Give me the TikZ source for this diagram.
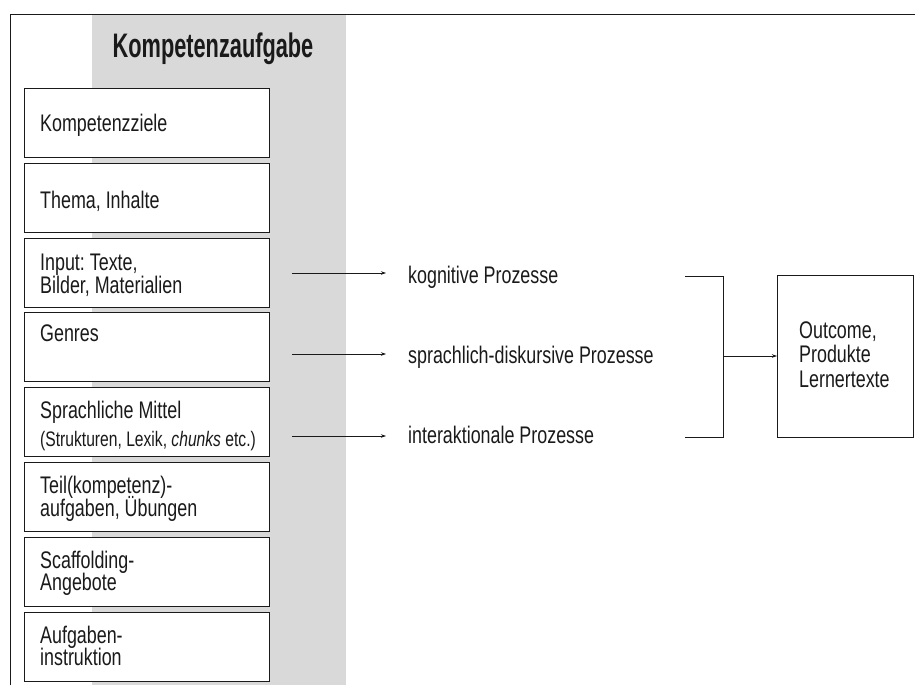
\documentclass[tikz,border=0pt]{standalone}
\usepackage{fontspec}
\setmainfont{Liberation Sans}[FakeStretch=0.745]
\newfontfamily\titlefont{Liberation Sans}[FakeStretch=0.64]
\usetikzlibrary{arrows.meta}
\definecolor{ink}{HTML}{1A1A1A}
\definecolor{band}{HTML}{D9D9D9}
\frenchspacing
\tikzset{
  box/.style={draw=ink, line width=0.9pt, fill=white, minimum width=245pt, minimum height=69pt, inner sep=0pt, anchor=north west},
  txt/.style={anchor=base west, inner sep=0pt, text=ink, font=\fontsize{24}{23}\selectfont},
  small/.style={anchor=base west, inner sep=0pt, text=ink, font=\fontsize{21}{20}\selectfont},
  arr/.style={draw=ink, line width=0.7pt, -{Stealth[length=5pt,width=3.5pt]}},
  ln/.style={draw=ink, line width=0.7pt}
}
\begin{document}
\begin{tikzpicture}[x=1pt,y=-1pt]
\useasboundingbox (0,0) rectangle (915,685);
% gray band and frame
\fill[band] (92,14) rectangle (346,685);
\draw[ln, line width=0.8pt] (10,685) -- (10,14) -- (915,14);
% title
\node[anchor=base, inner sep=0pt, text=ink, font=\titlefont\bfseries\fontsize{34}{36}\selectfont] (title) at (213,58) {Kompetenzaufgabe};
% boxes
\node[box] (b1) at (24,88) {};
\node[box] (b2) at (24,163) {};
\node[box] (b3) at (24,238) {};
\node[box] (b4) at (24,312) {};
\node[box] (b5) at (24,387) {};
\node[box] (b6) at (24,462) {};
\node[box] (b7) at (24,537) {};
\node[box] (b8) at (24,612) {};
% box texts
\node[txt] (t1) at (40,131) {Kompetenzziele};
\node[txt] (t2) at (40,208) {Thema, Inhalte};
\node[txt] (t3a) at (40,270) {Input: Texte,};
\node[txt] (t3b) at (40,293) {Bilder, Materialien};
\node[txt] (t4) at (40,341) {Genres};
\node[txt] (t5a) at (40,418) {Sprachliche Mittel};
\node[small] (t5b) at (40,446) {(Strukturen, Lexik, \textit{chunks} etc.)};
\node[txt] (t6a) at (40,493) {Teil(kompetenz)-};
\node[txt] (t6b) at (40,516) {aufgaben, Übungen};
\node[txt] (t7a) at (40,568) {Scaffolding-};
\node[txt] (t7b) at (40,590) {Angebote};
\node[txt] (t8a) at (40,643) {Aufgaben-};
\node[txt] (t8b) at (40,665) {instruktion};
% process labels
\node[txt] (p1) at (408,283) {kognitive Prozesse};
\node[txt] (p2) at (408,363) {sprachlich-diskursive Prozesse};
\node[txt] (p3) at (408,443) {interaktionale Prozesse};
% arrows from boxes to processes
\coordinate (s1) at (292,273);
\coordinate (s2) at (292,354);
\coordinate (s3) at (292,436);
\coordinate (e1) at (386,273);
\coordinate (e2) at (386,354);
\coordinate (e3) at (386,436);
\draw[arr] (s1) -- (e1);
\draw[arr] (s2) -- (e2);
\draw[arr] (s3) -- (e3);
% bracket
\coordinate (k1) at (685,276);
\coordinate (k3) at (685,437);
\coordinate (km) at (723,356);
\draw[ln] (k1) -- (723,276) -- (723,437) -- (k3);
% outcome box
\node[draw=ink, line width=0.9pt, minimum width=136pt, minimum height=162pt, inner sep=0pt, anchor=north west] (out) at (777,275) {};
\node[txt] (o1) at (799,338) {Outcome,};
\node[txt] (o2) at (799,362) {Produkte};
\node[txt] (o3) at (799,387) {Lernertexte};
\draw[arr] (km) -- (out.west |- km);
\end{tikzpicture}
\end{document}
